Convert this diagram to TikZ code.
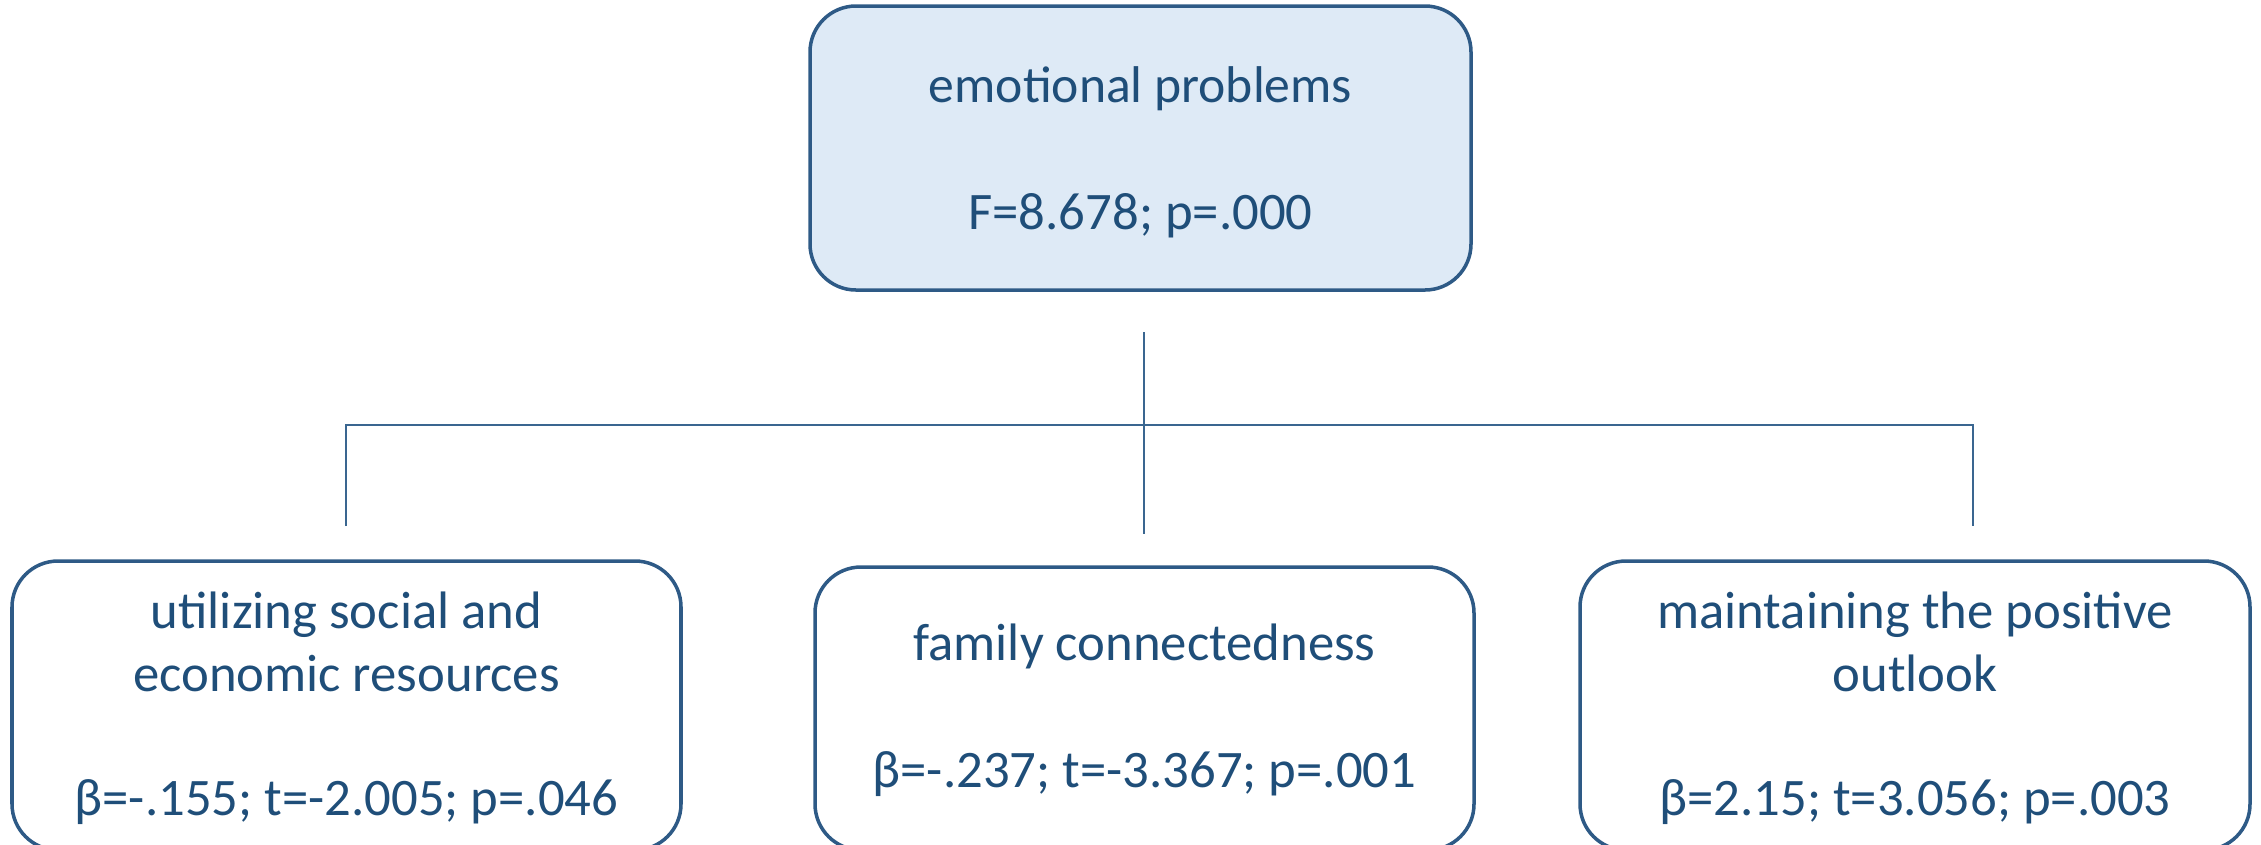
\documentclass[tikz,border=0pt]{standalone}
\usepackage{fontspec}
\setmainfont{Carlito}
\usepackage{xcolor}
\definecolor{boxline}{HTML}{2E5A86}
\definecolor{boxfill}{HTML}{DEEAF6}
\definecolor{boxtext}{HTML}{1F4E79}
\definecolor{linkcol}{HTML}{3A6690}
\tikzset{
    mainbox/.style={draw=boxline, line width=1pt, fill=boxfill, rounded corners=0.46cm, inner sep=0pt},
    factorbox/.style={draw=boxline, line width=1pt, rounded corners=0.46cm, inner sep=0pt},
    boxtext/.style={text=boxtext, align=center, inner sep=0pt, font=\fontsize{15}{17.9}\selectfont},
    titletext/.style={boxtext, font=\fontsize{14.7}{17.9}\selectfont}
}

\begin{document}
\begin{tikzpicture}[x=0.1mm, y=-0.1mm]
        \useasboundingbox (0,0) rectangle (2261,844);

        \node[mainbox, minimum width=6.61cm, minimum height=2.84cm] (emo) at (1140.5,148) {};
        \node[factorbox, minimum width=6.69cm, minimum height=2.89cm] (social) at (346.5,705.5) {};
        \node[factorbox, minimum width=6.59cm, minimum height=2.83cm] (family) at (1144.5,708.5) {};
        \node[factorbox, minimum width=6.70cm, minimum height=2.89cm] (outlook) at (1915,705.5) {};

        \node[titletext] (emoname) at (1140.5,89) {emotional problems};
        \node[boxtext] (emostat) at (1140.5,216) {F=8.678; p=.000};

        \node[boxtext] (socialname) at (346.5,641.5) {utilizing social and\\economic resources};
        \node[boxtext] (socialstat) at (346.5,802) {β=-.155; t=-2.005; p=.046};

        \node[boxtext] (familyname) at (1144.5,646) {family connectedness};
        \node[boxtext] (familystat) at (1144.5,774) {β=-.237; t=-3.367; p=.001};

        \node[boxtext] (outlookname) at (1915,641.5) {maintaining the positive\\outlook};
        \node[boxtext] (outlookstat) at (1915,802) {β=2.15; t=3.056; p=.003};

        \coordinate (stemtop) at (1144,332);
        \coordinate (stembot) at (1144,534);
        \coordinate (barleft) at (346,425);
        \coordinate (barright) at (1973,425);
        \coordinate (dropleft) at (346,526);
        \coordinate (dropright) at (1973,526);

        \draw[draw=linkcol, line width=0.6pt] (stemtop) -- (stembot);
        \draw[draw=linkcol, line width=0.6pt] (dropleft) -- (barleft) -- (barright) -- (dropright);
    \end{tikzpicture}
\end{document}
